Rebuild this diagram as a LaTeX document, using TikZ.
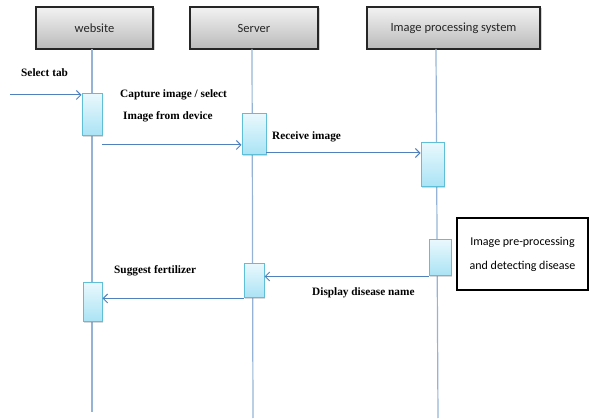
\documentclass[tikz,border=0pt]{standalone}
\usepackage{fontspec}
\setmainfont{Liberation Serif}
\newfontfamily\boxfont{Carlito}
\usetikzlibrary{arrows.meta,shadows}

\definecolor{lifeblue}{HTML}{95B3D7}
\definecolor{msgblue}{HTML}{4F81BD}
\definecolor{acttop}{HTML}{E9F8FD}
\definecolor{actbot}{HTML}{A9E3F5}
\definecolor{actedge}{HTML}{5EBFD6}

\tikzset{
  header/.style={draw=black!85, line width=1.1pt, top color=black!5, bottom color=black!27,
    font=\boxfont\fontsize{12.5}{14}\selectfont, text=black!85,
    drop shadow={shadow xshift=1.5pt, shadow yshift=-1.5pt, opacity=0.35}},
  lifeline/.style={draw=lifeblue, line width=1.2pt},
  act/.style={draw=actedge, line width=1pt, top color=acttop, bottom color=actbot,
    inner sep=0pt, drop shadow={shadow xshift=1pt, shadow yshift=-1pt, opacity=0.3}},
  msg/.style={draw=msgblue, line width=1pt, -{Straight Barb[length=4.5pt,width=9pt]}},
  msglabel/.style={font=\bfseries\fontsize{11.3}{13}\selectfont, anchor=west, inner sep=0pt},
  notebox/.style={draw=black, line width=1.6pt, fill=white, align=center,
    font=\boxfont\fontsize{12}{24}\selectfont, inner sep=0pt}
}

\begin{document}
\begin{tikzpicture}[x=1pt,y=-1pt]
\useasboundingbox (0,0) rectangle (589,419);

% participants
\node[header, minimum width=117pt, minimum height=42pt] (web) at (94.5,28) {website};
\node[header, minimum width=128pt, minimum height=42pt] (srv) at (254,28) {Server};
\node[header, minimum width=173pt, minimum height=42pt] (ips) at (453.5,28) {Image processing system};

% lifelines
\coordinate (webtop) at (92,49);   \coordinate (webend) at (92,412);
\coordinate (srvtop) at (252,49);  \coordinate (srvend) at (253,418);
\coordinate (ipstop) at (436,49);  \coordinate (ipsend) at (438,418);
\draw[lifeline] (webtop) -- (webend);
\draw[lifeline] (srvtop) -- (srvend);
\draw[lifeline] (ipstop) -- (ipsend);

% activation bars
\node[act, minimum width=20pt, minimum height=42pt] (wa1) at (92,115) {};
\node[act, minimum width=24pt, minimum height=41pt] (sa1) at (254,134.5) {};
\node[act, minimum width=23pt, minimum height=44pt] (ia1) at (432.5,165) {};
\node[act, minimum width=22pt, minimum height=36pt] (ia2) at (440,258) {};
\node[act, minimum width=20pt, minimum height=34pt] (sa2) at (254,281) {};
\node[act, minimum width=19pt, minimum height=39pt] (wa2) at (92.5,302.5) {};

% messages
\coordinate (start) at (10,95);
\draw[msg] (start) -- (start -| wa1.west);
\coordinate (cap) at (102,145);
\draw[msg] (cap) -- (cap -| sa1.west);
\coordinate (rcv) at (266,153);
\draw[msg] (rcv) -- (rcv -| ia1.west);
\draw[msg] (ia2.south west) -- (ia2.south west -| sa2.east);
\draw[msg] (sa2.south west) -- (sa2.south west -| wa2.east);

% message labels
\node[msglabel] (lselect) at (21,73) {Select tab};
\node[msglabel] (lcap1) at (120,95) {Capture image / select};
\node[msglabel] (lcap2) at (123,117) {Image from device};
\node[msglabel] (lrcv) at (272,137) {Receive image};
\node[msglabel] (lsug) at (114,271) {Suggest fertilizer};
\node[msglabel] (ldisp) at (312,293) {Display disease name};

% note
\node[notebox, minimum width=131pt, minimum height=72pt] (note) at (522.5,254)
  {Image pre-processing\\and detecting disease};
\end{tikzpicture}
\end{document}
